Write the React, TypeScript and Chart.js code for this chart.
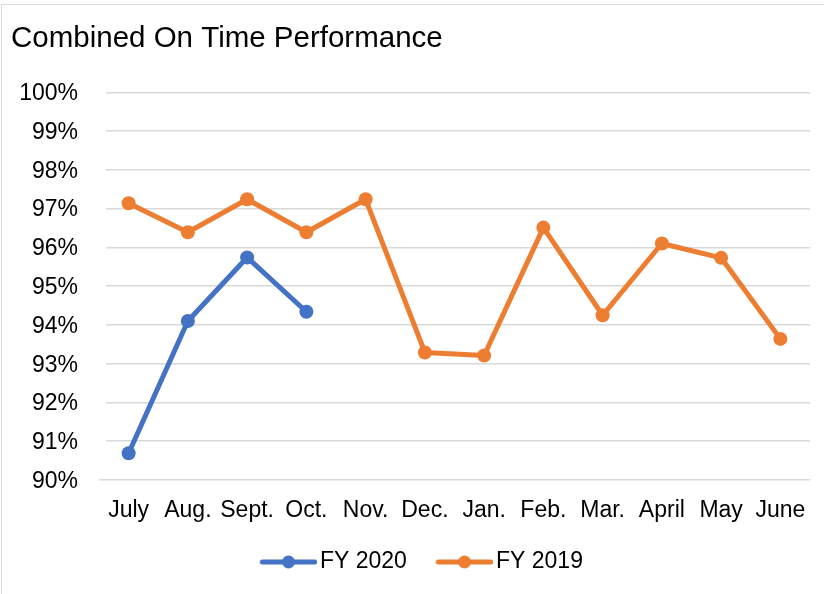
import React, { useEffect, useRef } from "react";
import { Chart, registerables } from "chart.js";

Chart.register(...registerables);

const months = ["July", "Aug.", "Sept.", "Oct.", "Nov.", "Dec.", "Jan.", "Feb.", "Mar.", "April", "May", "June"];
const fy2020 = [90.69, 94.1, 95.74, 94.34];
const fy2019 = [97.14, 96.39, 97.24, 96.39, 97.24, 93.29, 93.21, 96.51, 94.25, 96.1, 95.73, 93.64];
const yMin = 90;
const yMax = 100;
const yStep = 1;

const BLUE = "#4472C4";
const ORANGE = "#ED7D31";
const FONT = "'Liberation Sans', Arial, sans-serif";

function legendImage(color: string): HTMLCanvasElement {
  const c = document.createElement("canvas");
  c.width = 88;
  c.height = 16;
  const ctx = c.getContext("2d")!;
  ctx.strokeStyle = color;
  ctx.lineWidth = 5;
  ctx.lineCap = "round";
  ctx.beginPath();
  ctx.moveTo(33, 8);
  ctx.lineTo(85.5, 8);
  ctx.stroke();
  ctx.fillStyle = color;
  ctx.beginPath();
  ctx.arc(59.2, 8, 6.5, 0, Math.PI * 2);
  ctx.fill();
  return c;
}

const gridTrim = {
  id: "gridTrim",
  beforeDatasetsDraw(chart: any) {
    const { ctx, chartArea } = chart;
    ctx.save();
    ctx.fillStyle = "#fff";
    ctx.fillRect(chartArea.left - 1, chartArea.top - 3, 8, chartArea.bottom - chartArea.top - 1);
    ctx.restore();
  },
};

export default function App() {
  const ref = useRef<HTMLCanvasElement | null>(null);

  useEffect(() => {
    if (!ref.current) return;
    Chart.defaults.font.family = FONT;
    const images: Record<string, HTMLCanvasElement> = {
      "FY 2020": legendImage(BLUE),
      "FY 2019": legendImage(ORANGE),
    };
    const chart = new Chart(ref.current, {
      type: "line",
      data: {
        labels: months,
        datasets: [
          {
            label: "FY 2020",
            data: fy2020,
            borderColor: BLUE,
            backgroundColor: BLUE,
            pointBackgroundColor: BLUE,
            pointBorderColor: BLUE,
            borderWidth: 5,
            pointRadius: 7,
            pointBorderWidth: 0,
            tension: 0,
            borderCapStyle: "round",
            borderJoinStyle: "round",
          },
          {
            label: "FY 2019",
            data: fy2019,
            borderColor: ORANGE,
            backgroundColor: ORANGE,
            pointBackgroundColor: ORANGE,
            pointBorderColor: ORANGE,
            borderWidth: 5,
            pointRadius: 7,
            pointBorderWidth: 0,
            tension: 0,
            borderCapStyle: "round",
            borderJoinStyle: "round",
          },
        ],
      },
      options: {
        responsive: false,
        animation: false,
        layout: { padding: { left: 11, right: 14, top: 0, bottom: 10.5 } },
        plugins: {
          tooltip: { enabled: false },
          title: {
            display: true,
            text: "Combined On Time Performance",
            align: "start",
            color: "#000",
            font: { family: FONT, size: 29.5, weight: "normal" },
            padding: { top: 21.5, bottom: 35.4 },
          },
          legend: {
            display: true,
            position: "bottom",
            labels: {
              usePointStyle: true,
              pointStyleWidth: 70.4,
              padding: 7.2,
              color: "#000",
              font: { family: FONT, size: 23 },
              generateLabels: (ch: any) => {
                const items = Chart.defaults.plugins.legend.labels.generateLabels(ch);
                return items.map((it: any) => ({ ...it, pointStyle: images[it.text] }));
              },
            },
          },
        },
        scales: {
          x: {
            type: "category",
            offset: true,
            grid: { display: false, drawTicks: false },
            border: { display: false },
            ticks: {
              color: "#000",
              font: { family: FONT, size: 23 },
              padding: 16.5,
              maxRotation: 0,
              autoSkip: false,
            },
            afterFit: (s: any) => {
              s.height = 63.3;
            },
          },
          y: {
            min: yMin,
            max: yMax,
            grid: { color: "#d9d9d9", lineWidth: 1.5, drawTicks: false },
            border: { display: false },
            ticks: {
              stepSize: yStep,
              color: "#000",
              font: { family: FONT, size: 23 },
              padding: 21,
              labelOffset: 1.5,
              callback: (v: any) => `${v}%`,
            },
            afterFit: (s: any) => {
              s.width = 88;
            },
          },
        },
      },
      plugins: [gridTrim],
    });
    return () => chart.destroy();
  }, []);

  return (
    <div style={{ position: "fixed", left: 0, top: 0, width: 824, height: 594, overflow: "hidden", background: "#fff" }}>
      <div
        style={{
          position: "absolute",
          left: 1,
          top: 4,
          width: 900,
          height: 700,
          border: "1px solid #d9d9d9",
          boxSizing: "border-box",
        }}
      />
      <canvas ref={ref} width={824} height={594} style={{ position: "absolute", left: 0, top: 0, width: 824, height: 594 }} />
    </div>
  );
}
